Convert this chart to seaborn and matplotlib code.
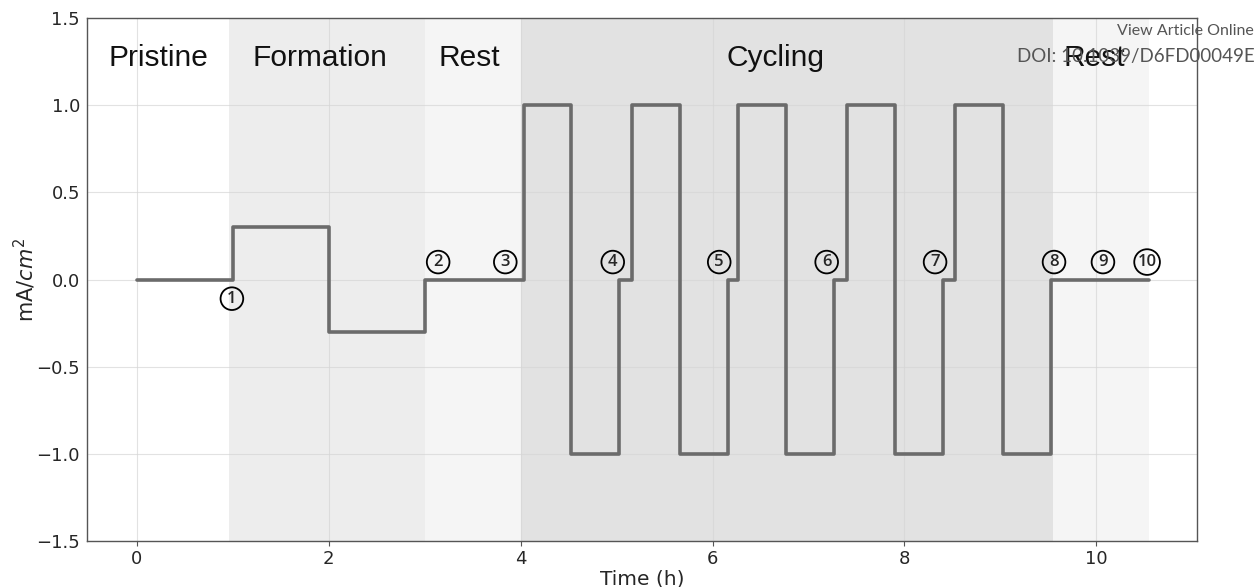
import matplotlib
matplotlib.use("Agg")
import matplotlib.pyplot as plt
import seaborn as sns
import pandas as pd

# ---- data ----
step_times = [0, 1.0, 2.0, 3.0, 4.03, 4.53, 5.03, 5.16, 5.66, 6.16, 6.27, 6.77,
              7.27, 7.40, 7.90, 8.40, 8.53, 9.03, 9.53, 10.55]
step_currents = [0, 0.3, -0.3, 0, 1, -1, 0, 1, -1, 0, 1, -1, 0, 1, -1, 0, 1, -1, 0, 0]

phase_names = ["Pristine", "Formation", "Rest", "Cycling", "Rest"]
phase_start = [-0.52, 0.96, 3.0, 4.0, 9.55]
phase_end = [0.96, 3.0, 4.0, 9.55, 10.55]
phase_label_x = [0.22, 1.91, 3.46, 6.66, 9.98]
phase_colors = ["#ffffff", "#ededed", "#f5f5f5", "#e2e2e2", "#f5f5f5"]

marker_labels = ["1", "2", "3", "4", "5", "6", "7", "8", "9", "10"]
marker_t = [0.99, 3.14, 3.84, 4.96, 6.07, 7.19, 8.32, 9.56, 10.07, 10.53]
marker_y = [-0.11, 0.1, 0.1, 0.1, 0.1, 0.1, 0.1, 0.1, 0.1, 0.1]

xticks = [0, 2, 4, 6, 8, 10]
yticks = [-1.5, -1.0, -0.5, 0.0, 0.5, 1.0, 1.5]

# ---- plot ----
sns.set_style("ticks")
plt.rcParams['font.family'] = ['DejaVu Sans']

fig = plt.figure(figsize=(12.56, 5.87), dpi=100)
ax = fig.add_axes([0.0693, 0.0784, 0.8837, 0.8909])

for s, e, c in zip(phase_start, phase_end, phase_colors):
    ax.axvspan(s, e, color=c, zorder=0.2, lw=0)

df = pd.DataFrame({"t": step_times, "i": step_currents})
sns.lineplot(data=df, x="t", y="i", ax=ax, sort=False, drawstyle="steps-post",
             color="#6b6b6b", lw=2.6, zorder=3)

ax.set_xlim(-0.52, 11.05)
ax.set_ylim(-1.5, 1.5)
ax.set_xticks(xticks)
ax.set_yticks(yticks)
ax.grid(True, color="#d6d6d6", lw=0.8, alpha=0.7)
ax.set_axisbelow(True)
for sp in ax.spines.values():
    sp.set_visible(True)
    sp.set_color("#555555")
    sp.set_linewidth(1.0)
ax.tick_params(axis="x", labelsize=13, length=3.5, pad=3, color="#555555")
ax.tick_params(axis="y", labelsize=13, length=0, pad=5, color="#555555")
ax.set_xlabel("Time (h)", fontsize=14.5, labelpad=1)
ax.set_ylabel(r"mA/$cm^2$", fontsize=15, labelpad=-1)

for name, x in zip(phase_names, phase_label_x):
    ax.text(x, 1.27, name, ha="center", va="center", fontsize=21.5,
            family="Liberation Sans", color="#111111", zorder=4)

for lab, t, y in zip(marker_labels, marker_t, marker_y):
    ax.text(t, y, lab, ha="center", va="center", fontsize=12, zorder=5,
            family="Open Sans", fontweight="semibold",
            bbox=dict(boxstyle="circle,pad=0.2", fc="none", ec="black", lw=1.3))

fig.text(0.998, 0.947, "View Article Online", ha="right", va="center",
         fontsize=11.5, color="#555555", family="Lato")
fig.text(0.999, 0.903, "DOI: 10.1039/D6FD00049E", ha="right", va="center",
         fontsize=13.5, color="#555555", family="Lato")

fig.savefig("out.png", dpi=100)
